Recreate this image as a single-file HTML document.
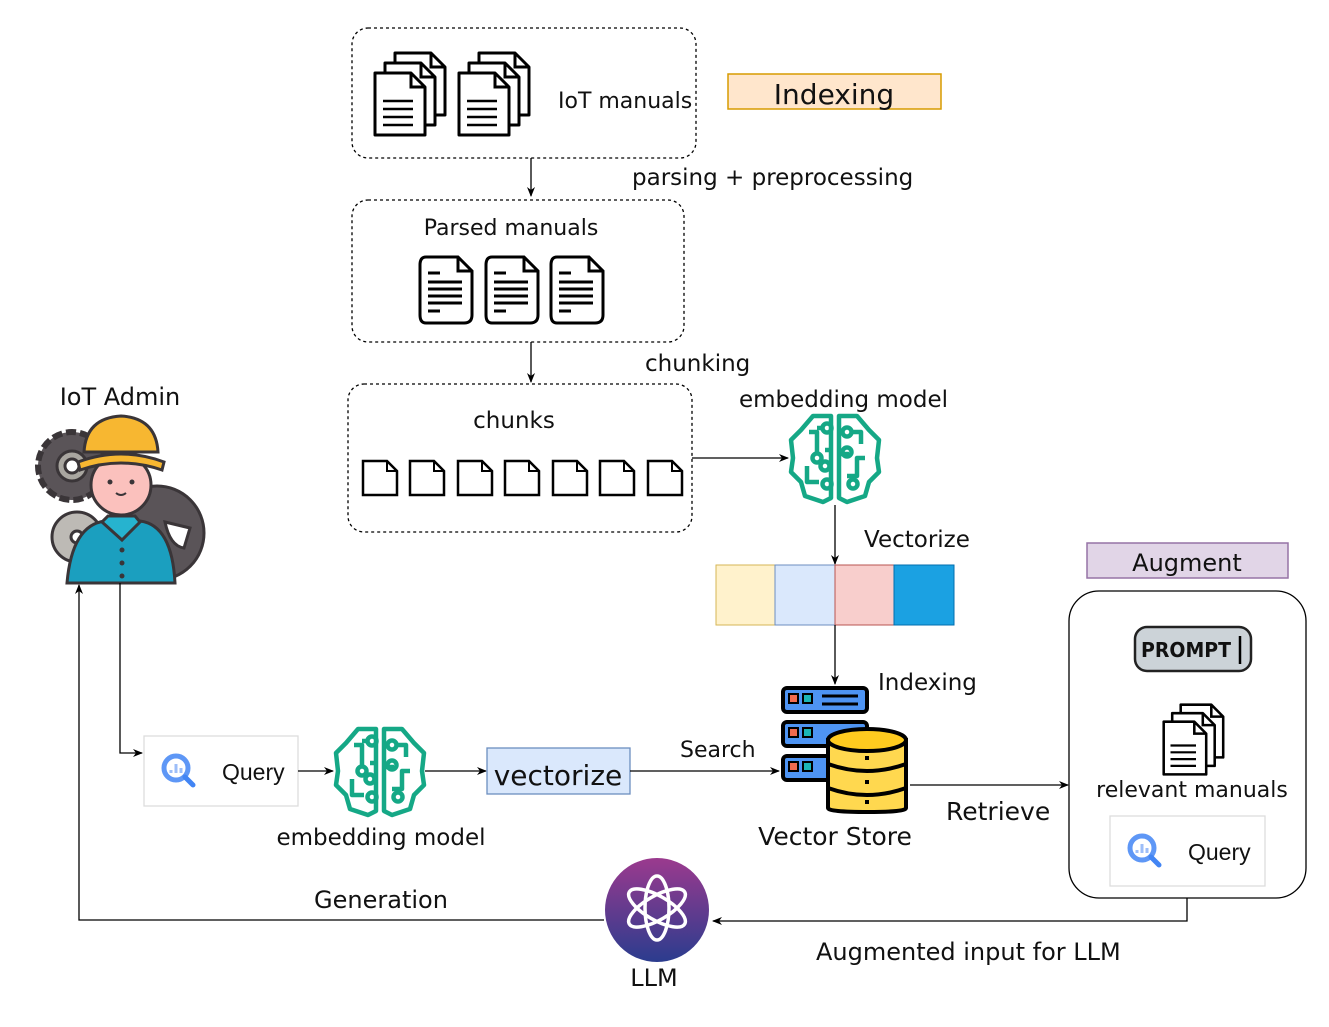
<!DOCTYPE html>
<html><head><meta charset="utf-8"><style>
html,body{margin:0;padding:0;background:#fff}
svg{display:block}
text{font-family:"DejaVu Sans","Liberation Sans",sans-serif;fill:#111}
.q{font-family:"Liberation Sans",sans-serif}
</style></head><body>
<svg width="1329" height="1027" viewBox="0 0 1329 1027" xmlns="http://www.w3.org/2000/svg">
<defs>
<marker id="ar" markerWidth="10" markerHeight="10" refX="9" refY="5" orient="auto" markerUnits="userSpaceOnUse">
<path d="M0,1 L10,5 L0,9 L3,5 Z" fill="#000"/></marker>
<g id="pg">
<path d="M2,2 H38 L52,16 V64 H2 Z" fill="#fff" stroke="#000" stroke-width="3" stroke-linejoin="round"/>
<path d="M38,2 V16 H52" fill="none" stroke="#000" stroke-width="3"/>
<path d="M10,30 H40 M10,38 H40 M10,46 H40 M10,54 H40" stroke="#000" stroke-width="2.6"/>
</g>
<g id="stack"><use href="#pg" x="20" y="-20"/><use href="#pg" x="10" y="-10"/><use href="#pg"/></g>
<g id="pdoc">
<path d="M8,2 H40 L54,16 V60 Q54,68 46,68 H8 Q2,68 2,60 V10 Q2,2 8,2 Z" fill="#fff" stroke="#000" stroke-width="3"/>
<path d="M40,2 V16 H54" fill="none" stroke="#000" stroke-width="3"/>
<path d="M10,18 H22 M10,27 H44 M10,34 H44 M10,41 H44 M10,48 H44 M10,56 H22" stroke="#000" stroke-width="3"/>
</g>
<g id="chunk"><path d="M2,2 H26 L36,12 V36 H2 Z" fill="#fff" stroke="#000" stroke-width="2.5"/><path d="M26,2 V12 H36" fill="none" stroke="#000" stroke-width="2"/></g>
<g id="brain" fill="none" stroke="#15a886" stroke-width="4.5" stroke-linejoin="round">
<path d="M-4,-42 L-22,-42 L-34,-28 L-44,-18 L-42,0 L-44,14 L-34,24 L-30,38 L-12,44 L-4,40 Z"/>
<path d="M4,-42 L22,-42 L34,-28 L44,-18 L42,0 L44,14 L34,24 L30,38 L12,44 L4,40 Z"/>
<path d="M-26,-26 H-18 V-6 M-18,-30 H-12"/>
<path d="M-4,-8 H-10 M-28,8 V24 H-16"/>
<path d="M16,-26 H26 V-14 M4,-4 H14 M30,0 H22 V18 H12"/>
<circle cx="-8" cy="-30" r="4.5"/><circle cx="-18" cy="0" r="4.5"/>
<circle cx="-8" cy="26" r="4.5"/><circle cx="-10" cy="8" r="4.5"/>
<circle cx="12" cy="-26" r="4.5"/><circle cx="12" cy="-6" r="4.5"/><circle cx="18" cy="26" r="4.5"/>
</g>
<g id="mag">
<circle cx="0" cy="0" r="12" fill="none" stroke="#5e97f6" stroke-width="5"/>
<path d="M9,9 L17,17" stroke="#4285f4" stroke-width="5" stroke-linecap="round"/>
<path d="M-5,2 V5 M0,-4 V5 M5,0 V5" stroke="#9dbef8" stroke-width="3"/>
</g>
<linearGradient id="lg" x1="0" y1="0" x2="0" y2="1"><stop offset="0" stop-color="#9b3a8e"/><stop offset="1" stop-color="#2b3c8e"/></linearGradient>
</defs>

<rect x="352" y="28" width="344" height="130" rx="16" fill="none" stroke="#000" stroke-width="1.3" stroke-dasharray="3,3"/>
<use href="#stack" x="373" y="71"/>
<use href="#stack" x="457" y="71"/>
<text x="558" y="108" font-size="22">IoT manuals</text>
<rect x="728" y="74" width="213" height="35" fill="#ffe6cc" stroke="#d79b00" stroke-width="1.5"/>
<text x="834" y="104" font-size="28" text-anchor="middle">Indexing</text>
<line x1="531" y1="158" x2="531" y2="196" stroke="#000" stroke-width="1.3" marker-end="url(#ar)"/>
<text x="632" y="185" font-size="23">parsing + preprocessing</text>

<rect x="352" y="200" width="332" height="142" rx="16" fill="none" stroke="#000" stroke-width="1.3" stroke-dasharray="3,3"/>
<text x="511" y="235" font-size="22" text-anchor="middle">Parsed manuals</text>
<use href="#pdoc" x="418" y="255"/>
<use href="#pdoc" x="484" y="255"/>
<use href="#pdoc" x="549" y="255"/>
<line x1="531" y1="342" x2="531" y2="382" stroke="#000" stroke-width="1.3" marker-end="url(#ar)"/>
<text x="645" y="371" font-size="23">chunking</text>

<rect x="348" y="384" width="344" height="148" rx="16" fill="none" stroke="#000" stroke-width="1.3" stroke-dasharray="3,3"/>
<text x="514" y="428" font-size="23" text-anchor="middle">chunks</text>
<use href="#chunk" x="361" y="459"/><use href="#chunk" x="408" y="459"/><use href="#chunk" x="456" y="459"/><use href="#chunk" x="503" y="459"/><use href="#chunk" x="551" y="459"/><use href="#chunk" x="598" y="459"/><use href="#chunk" x="646" y="459"/>
<line x1="692" y1="458" x2="788" y2="458" stroke="#000" stroke-width="1.3" marker-end="url(#ar)"/>
<text x="739" y="407" font-size="23">embedding model</text>
<use href="#brain" x="835" y="458"/>
<line x1="835" y1="505" x2="835" y2="564" stroke="#000" stroke-width="1.3" marker-end="url(#ar)"/>
<text x="864" y="547" font-size="23">Vectorize</text>
<rect x="716" y="565" width="59" height="60" fill="#fff2cc" stroke="#d6b656"/>
<rect x="775" y="565" width="60" height="60" fill="#dae8fc" stroke="#6c8ebf"/>
<rect x="835" y="565" width="59" height="60" fill="#f8cecc" stroke="#b85450"/>
<rect x="894" y="565" width="60" height="60" fill="#1ba1e2" stroke="#006eaf"/>
<line x1="835" y1="625" x2="835" y2="684" stroke="#000" stroke-width="1.3" marker-end="url(#ar)"/>
<text x="878" y="690" font-size="23">Indexing</text>

<g stroke="#000" stroke-width="4">
<rect x="783" y="688" width="84" height="24" rx="4" fill="#4e94f3"/>
<rect x="783" y="722" width="84" height="24" rx="4" fill="#4e94f3"/>
<rect x="783" y="756" width="84" height="24" rx="4" fill="#4e94f3"/>
<rect x="789" y="694" width="9" height="9" fill="#f26b4f" stroke-width="2"/><rect x="803" y="694" width="9" height="9" fill="#1bb5b5" stroke-width="2"/>
<rect x="789" y="728" width="9" height="9" fill="#f26b4f" stroke-width="2"/><rect x="803" y="728" width="9" height="9" fill="#1bb5b5" stroke-width="2"/>
<rect x="789" y="762" width="9" height="9" fill="#f26b4f" stroke-width="2"/><rect x="803" y="762" width="9" height="9" fill="#1bb5b5" stroke-width="2"/>
<path d="M822,696 H858 M822,704 H858" stroke-width="3"/>
<path d="M828,740 V808 Q828,812 868,812 Q906,812 906,808 V740 Z" fill="#ffd84f"/>
<ellipse cx="867" cy="740" rx="39" ry="11" fill="#ffcb1f"/>
<path d="M828,764 Q867,778 906,764 M828,788 Q867,802 906,788" fill="none"/>
</g>
<g fill="#000"><rect x="865" y="756" width="4" height="4"/><rect x="865" y="780" width="4" height="4"/><rect x="865" y="800" width="4" height="4"/></g>
<text x="835" y="845" font-size="25" text-anchor="middle">Vector Store</text>

<text x="120" y="405" font-size="24" text-anchor="middle">IoT Admin</text>
<g stroke="#3a3538" stroke-width="3">
<circle cx="157" cy="533" r="47" fill="#5a5458"/>
<path d="M165,522 L190,528 L184,548 Q170,546 165,522 Z" fill="#fff"/>
<circle cx="152" cy="540" r="6" fill="#fff"/>
<circle cx="72" cy="466" r="34" fill="#5a5458" stroke-dasharray="10,4" stroke-width="6"/>
<circle cx="72" cy="466" r="15" fill="#a9a6a0"/>
<circle cx="72" cy="466" r="7" fill="#fff"/>
<circle cx="77" cy="537" r="25" fill="#bdbab5"/>
<circle cx="77" cy="537" r="6" fill="#fff"/>
<path d="M67,583 Q72,525 105,521 H140 Q172,525 175,583 Z" fill="#1b9fbf"/>
<path d="M102,522 L122,540 L140,522 L135,516 H108 Z" fill="#26b3cf"/>
<circle cx="121" cy="485" r="30" fill="#fbc1bd"/>
<path d="M84,452 Q86,418 121,416 Q156,418 158,452 Z" fill="#f7b731"/>
<path d="M78,462 Q121,446 164,462 L162,470 Q121,456 80,470 Z" fill="#f7b731"/>
</g>
<g fill="#3a3538"><circle cx="110" cy="482" r="2.5"/><circle cx="132" cy="482" r="2.5"/><circle cx="122" cy="550" r="2.5"/><circle cx="122" cy="563" r="2.5"/><circle cx="122" cy="576" r="2.5"/></g>
<path d="M116,493 Q121,497 126,493" fill="none" stroke="#3a3538" stroke-width="2"/>

<polyline points="120,583 120,753 142,753" fill="none" stroke="#000" stroke-width="1.3" marker-end="url(#ar)"/>
<rect x="144" y="736" width="154" height="70" fill="#fff" stroke="#ddd" stroke-width="1.3"/>
<use href="#mag" x="176" y="768"/>
<text class="q" x="222" y="780" font-size="23">Query</text>
<line x1="298" y1="771" x2="333" y2="771" stroke="#000" stroke-width="1.3" marker-end="url(#ar)"/>
<use href="#brain" x="380" y="771"/>
<text x="381" y="845" font-size="23" text-anchor="middle">embedding model</text>
<line x1="425" y1="771" x2="486" y2="771" stroke="#000" stroke-width="1.3" marker-end="url(#ar)"/>
<rect x="487" y="748" width="143" height="46" fill="#dae8fc" stroke="#6c8ebf" stroke-width="1.3"/>
<text x="558" y="785" font-size="28" text-anchor="middle">vectorize</text>
<line x1="630" y1="771" x2="779" y2="771" stroke="#000" stroke-width="1.3" marker-end="url(#ar)"/>
<text x="680" y="757" font-size="22">Search</text>
<line x1="910" y1="785" x2="1068" y2="785" stroke="#000" stroke-width="1.3" marker-end="url(#ar)"/>
<text x="946" y="820" font-size="25">Retrieve</text>

<rect x="1087" y="543" width="201" height="35" fill="#e1d5e7" stroke="#9673a6" stroke-width="1.5"/>
<text x="1187" y="571" font-size="24" text-anchor="middle">Augment</text>
<rect x="1069" y="591" width="237" height="307" rx="30" fill="none" stroke="#000" stroke-width="1.3"/>
<rect x="1135" y="627" width="116" height="44" rx="12" fill="#ccd3d8" stroke="#222" stroke-width="2.5"/>
<text x="1141" y="657" font-size="20" font-family="Liberation Mono" font-weight="bold" textLength="90" lengthAdjust="spacingAndGlyphs">PROMPT</text>
<line x1="1240" y1="636" x2="1240" y2="664" stroke="#000" stroke-width="2.5"/>
<g transform="translate(1162,720) scale(0.85)"><use href="#stack"/></g>
<text x="1192" y="797" font-size="22" text-anchor="middle">relevant manuals</text>
<rect x="1110" y="816" width="155" height="70" fill="#fff" stroke="#ddd" stroke-width="1.3"/>
<use href="#mag" x="1142" y="848"/>
<text class="q" x="1188" y="860" font-size="23">Query</text>

<polyline points="1187,898 1187,921 713,921" fill="none" stroke="#000" stroke-width="1.3" marker-end="url(#ar)"/>
<text x="816" y="960" font-size="24">Augmented input for LLM</text>
<circle cx="657" cy="910" r="52" fill="url(#lg)"/>
<g fill="none" stroke="#fff" stroke-width="3.5" transform="translate(657,908)">
<ellipse rx="12" ry="32"/>
<ellipse rx="12" ry="32" transform="rotate(60)"/>
<ellipse rx="12" ry="32" transform="rotate(120)"/>
</g>
<text x="654" y="986" font-size="24" text-anchor="middle">LLM</text>
<polyline points="604,920 79,920 79,585" fill="none" stroke="#000" stroke-width="1.3" marker-end="url(#ar)"/>
<text x="381" y="908" font-size="24" text-anchor="middle">Generation</text>
</svg>
</body></html>
